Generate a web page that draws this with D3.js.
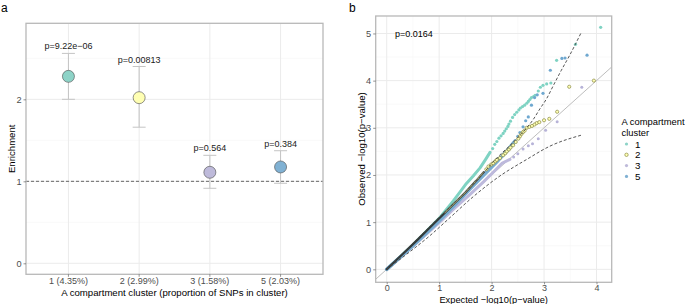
<!DOCTYPE html>
<html>
<head>
<meta charset="utf-8">
<script src="https://cdn.jsdelivr.net/npm/d3@7"></script>
<style>
  body { margin: 0; background: #fff; }
  svg { display: block; }
</style>
</head>
<body>
<div id="chart"></div>
<script>
// Panel a - enrichment per A compartment cluster
const clusterLabels = ["1 (4.35%)", "2 (2.99%)", "3 (1.58%)", "5 (2.03%)"];
const clusterColors = ["#8dd3c7", "#ffffb3", "#bebada", "#80b1d3"];
const enrichment    = [2.28, 2.02, 1.11, 1.175];
const enrichLow     = [2.00, 1.66, 0.915, 0.976];
const enrichHigh    = [2.56, 2.40, 1.317, 1.373];
const enrichP       = ["p=9.22e\u221206", "p=0.00813", "p=0.564", "p=0.384"];
const enrichTicks   = [0, 1, 2];

// Panel b - QQ plot, [expected, observed]
const qqBand1 = [[0,0],[0.5,0.52],[1.0,1.08],[1.27,1.45],[1.40,1.64],[1.52,1.82],[1.65,1.98],[1.78,2.15],[1.88,2.32],[1.97,2.48]];
const qqPts1  = [[2.02,2.56],[2.06,2.65],[2.10,2.71],[2.14,2.78],[2.18,2.83],[2.22,2.88],[2.25,2.93],[2.28,2.98],[2.31,3.03],[2.33,3.08],
                 [2.36,3.14],[2.40,3.22],[2.44,3.28],[2.48,3.33],[2.52,3.38],[2.55,3.42],[2.59,3.45],[2.63,3.48],[2.67,3.52],[2.70,3.56],
                 [2.73,3.60],[2.76,3.64],[2.80,3.66],[2.83,3.69],[2.89,3.78],[2.93,3.86],[2.98,3.90],[3.05,3.93],[3.13,3.95],[3.24,4.43],
                 [3.60,4.77],[4.08,5.13]];
const qqBand2 = [[0,0],[0.3,0.32],[0.6,0.64],[0.9,0.97],[1.1,1.19],[1.3,1.41],[1.5,1.63],[1.7,1.87],[1.85,2.06]];
const qqPts2  = [[1.90,2.12],[1.94,2.18],[1.99,2.22],[2.03,2.25],[2.07,2.29],[2.10,2.32],[2.16,2.36],[2.22,2.42],[2.26,2.46],[2.29,2.50],
                 [2.33,2.54],[2.36,2.58],[2.41,2.63],[2.46,2.70],[2.51,2.77],[2.54,2.82],[2.57,2.87],[2.60,2.91],[2.63,2.94],[2.67,3.00],
                 [2.72,3.02],[2.77,3.04],[2.82,3.07],[2.86,3.10],[2.91,3.12],[3.00,3.16],[3.10,3.19],[3.25,3.34],[3.48,3.87],[3.95,4.00]];
const qqBand3 = [[0,0],[0.5,0.49],[1.0,0.99],[1.3,1.30],[1.6,1.60],[1.85,1.86],[2.05,2.08],[2.20,2.25],[2.35,2.33]];
const qqPts3  = [[2.42,2.38],[2.50,2.45],[2.60,2.55],[2.70,2.62],[2.78,2.66],[2.89,2.77],[3.03,2.95],[3.25,3.13],[3.72,3.86]];
const qqBand5 = [[0,0],[0.5,0.50],[1.0,1.03],[1.3,1.37],[1.6,1.72],[1.85,2.00],[2.10,2.28],[2.30,2.52],[2.45,2.72]];
const qqPts5  = [[2.50,2.82],[2.54,2.90],[2.60,3.02],[2.65,3.15],[2.70,3.23],[2.76,3.48],[2.82,3.64],[2.87,3.70],[2.98,3.73],[3.12,4.22],
                 [3.34,4.47],[3.40,4.48],[3.82,4.54]];
const ciUpper = [[0,0],[0.5,0.55],[1.0,1.10],[1.40,1.53],[1.78,1.96],[2.10,2.36],[2.40,2.68],[2.67,3.00],[2.79,3.17],[2.92,3.40],
                 [3.05,3.62],[3.17,3.88],[3.33,4.22],[3.49,4.54],[3.70,5.00]];
const ciLower = [[0,0],[0.38,0.32],[0.82,0.71],[1.21,1.10],[1.65,1.54],[2.16,1.98],[2.67,2.33],[3.11,2.61],[3.73,2.85]];
const diagLine = [[-0.5,-0.5],[4.5,4.5]];
const qqXTicks = [0, 1, 2, 3, 4];
const qqYTicks = [0, 1, 2, 3, 4, 5];
const qqLegend = ["1", "2", "3", "5"];
const qqPval   = "p=0.0164";

const FONT = "'Liberation Sans', Arial, Helvetica, sans-serif";
const GRID_MAJOR = "#ebebeb";
const GRID_MINOR = "#f5f5f5";
const BORDER = "#b8b8b8";
const TICK_TXT = "#4d4d4d";

const svg = d3.select("#chart").append("svg")
  .attr("width", 685).attr("height", 304)
  .style("font-family", FONT);

function panelFrame(x, y, xMinor, yMinor, xMajor, yMajor) {
  const [x0, x1] = x.range(), [y0, y1] = y.range();
  const g = svg.append("g");
  yMinor.forEach(t => g.append("line").attr("x1", x0).attr("x2", x1).attr("y1", y(t)).attr("y2", y(t))
    .attr("stroke", GRID_MINOR).attr("stroke-width", 0.6));
  xMinor.forEach(t => g.append("line").attr("y1", y0).attr("y2", y1).attr("x1", x(t)).attr("x2", x(t))
    .attr("stroke", GRID_MINOR).attr("stroke-width", 0.6));
  yMajor.forEach(t => g.append("line").attr("x1", x0).attr("x2", x1).attr("y1", y(t)).attr("y2", y(t))
    .attr("stroke", GRID_MAJOR).attr("stroke-width", 1));
  xMajor.forEach(t => g.append("line").attr("y1", y0).attr("y2", y1).attr("x1", x(t)).attr("x2", x(t))
    .attr("stroke", GRID_MAJOR).attr("stroke-width", 1));
  return g;
}

function borderRect(xr, y) {
  const [x0, x1] = xr, [y0, y1] = y.range();
  svg.append("rect")
    .attr("x", x0).attr("y", y1).attr("width", x1 - x0).attr("height", y0 - y1)
    .attr("fill", "none").attr("stroke", BORDER).attr("stroke-width", 1.3);
}

function styleAxis(axG, size) {
  axG.select(".domain").remove();
  axG.selectAll(".tick line").attr("stroke", "#4d4d4d").attr("stroke-width", 0.6);
  axG.selectAll(".tick text").attr("fill", TICK_TXT).attr("font-size", size || "9.2px").attr("font-family", FONT);
}

// ---------------- Panel a ----------------
(function drawPanelA() {
  // ggplot-like discrete expansion: centres 0.6 units in from the panel edges
  const x = d3.scaleBand().domain(clusterLabels).range([26, 323]).paddingOuter(0.1).paddingInner(0);
  const xc = d => x(d) + x.bandwidth() / 2;
  const y = d3.scaleLinear().domain([-0.134, 2.927]).range([274.3, 23.3]);

  const g = svg.append("g");
  [0.5, 1.5, 2.5].forEach(t => g.append("line").attr("x1", 26).attr("x2", 323).attr("y1", y(t)).attr("y2", y(t))
    .attr("stroke", GRID_MINOR).attr("stroke-width", 0.6));
  enrichTicks.forEach(t => g.append("line").attr("x1", 26).attr("x2", 323).attr("y1", y(t)).attr("y2", y(t))
    .attr("stroke", GRID_MAJOR).attr("stroke-width", 1));
  clusterLabels.forEach(c => g.append("line").attr("y1", 23.3).attr("y2", 274.3).attr("x1", xc(c)).attr("x2", xc(c))
    .attr("stroke", GRID_MAJOR).attr("stroke-width", 1));

  // reference line at enrichment = 1
  svg.append("line")
    .attr("x1", 26).attr("x2", 323).attr("y1", y(1)).attr("y2", y(1))
    .attr("stroke", "#555").attr("stroke-width", 0.9).attr("stroke-dasharray", "3,2");

  clusterLabels.forEach((c, i) => {
    const cx = xc(c);
    const eb = svg.append("g").attr("stroke", "#c4c4c4").attr("stroke-width", 1);
    eb.append("line").attr("x1", cx).attr("x2", cx).attr("y1", y(enrichLow[i])).attr("y2", y(enrichHigh[i]));
    eb.append("line").attr("x1", cx - 6.5).attr("x2", cx + 6.5).attr("y1", y(enrichLow[i])).attr("y2", y(enrichLow[i]));
    eb.append("line").attr("x1", cx - 6.5).attr("x2", cx + 6.5).attr("y1", y(enrichHigh[i])).attr("y2", y(enrichHigh[i]));

    svg.append("circle")
      .attr("cx", cx).attr("cy", y(enrichment[i])).attr("r", 6)
      .attr("fill", clusterColors[i]).attr("stroke", "#4a4a4a").attr("stroke-width", 0.6);

    svg.append("text")
      .attr("x", cx).attr("y", y(enrichHigh[i]) - 4)
      .attr("text-anchor", "middle").attr("font-size", "9px").attr("fill", "#1a1a1a")
      .text(enrichP[i]);
  });

  borderRect([26, 323], y);

  const yAx = svg.append("g").attr("transform", "translate(26,0)")
    .call(d3.axisLeft(y).tickValues(enrichTicks).tickFormat(d3.format("d")).tickSize(2.5).tickPadding(2));
  styleAxis(yAx);

  const xAx = svg.append("g").attr("transform", "translate(0,274.3)")
    .call(d3.axisBottom(x).tickSize(2.5).tickPadding(0.5));
  styleAxis(xAx, "9px");

  svg.append("text").attr("x", 174.5).attr("y", 295.8).attr("text-anchor", "middle")
    .attr("font-size", "9.6px").attr("fill", "#000")
    .text("A compartment cluster (proportion of SNPs in cluster)");
  svg.append("text").attr("transform", "translate(15,148.8) rotate(-90)").attr("text-anchor", "middle")
    .attr("font-size", "9.6px").attr("fill", "#000").text("Enrichment");
  svg.append("text").attr("x", 1).attr("y", 12).attr("font-size", "12px").attr("fill", "#000").text("a");
})();

// ---------------- Panel b ----------------
(function drawPanelB() {
  const x = d3.scaleLinear().domain([-0.21, 4.29]).range([375.7, 611.7]);
  const y = d3.scaleLinear().domain([-0.275, 5.37]).range([282.3, 16]);

  panelFrame(x, y, [0.5, 1.5, 2.5, 3.5], [0.5, 1.5, 2.5, 3.5, 4.5], qqXTicks, qqYTicks);

  svg.append("clipPath").attr("id", "clipB").append("rect")
    .attr("x", 375.7).attr("y", 16).attr("width", 236).attr("height", 266.3);
  const g = svg.append("g").attr("clip-path", "url(#clipB)");

  const line = d3.line().x(d => x(d[0])).y(d => y(d[1]));
  const smooth = d3.line().x(d => x(d[0])).y(d => y(d[1])).curve(d3.curveMonotoneX);

  g.append("path").attr("d", line(diagLine)).attr("fill", "none")
    .attr("stroke", "#b5b5b5").attr("stroke-width", 0.9);

  // dense low-p region: overlapping points drawn as thick bands
  g.append("path").attr("d", line(qqBand1)).attr("fill", "none")
    .attr("stroke", "#7fd3c3").attr("stroke-width", 3).attr("stroke-linecap", "round").attr("stroke-linejoin", "round");
  g.append("path").attr("d", line(qqBand3)).attr("fill", "none")
    .attr("stroke", "#bdb9dc").attr("stroke-width", 3).attr("stroke-linecap", "round");
  g.append("path").attr("d", line(qqBand5)).attr("fill", "none")
    .attr("stroke", "#78acd0").attr("stroke-width", 3.6).attr("stroke-linecap", "round");
  g.append("path").attr("d", line(qqBand2)).attr("fill", "none")
    .attr("stroke", "#262620").attr("stroke-width", 2.2).attr("stroke-linecap", "round").attr("opacity", 0.85);
  g.append("path").attr("d", line(qqBand2.filter(d => d[0] >= 1.1))).attr("fill", "none")
    .attr("stroke", "#b8b87a").attr("stroke-width", 1.2).attr("opacity", 0.8);

  const dots = (pts, color, r) => pts.forEach(d =>
    g.append("circle").attr("cx", x(d[0])).attr("cy", y(d[1])).attr("r", r).attr("fill", color));

  dots(qqPts1, "#7fd3c3", 1.6);
  dots(qqPts3, "#b7b3d8", 1.5);
  dots(qqPts5, "#6fa8d0", 1.6);
  qqPts2.forEach(d =>
    g.append("circle").attr("cx", x(d[0])).attr("cy", y(d[1])).attr("r", 1.6)
      .attr("fill", "#ffffb3").attr("stroke", "#8a8a45").attr("stroke-width", 0.7));

  // confidence bounds
  [ciUpper, ciLower].forEach(ci =>
    g.append("path").attr("d", smooth(ci)).attr("fill", "none")
      .attr("stroke", "#444").attr("stroke-width", 0.9).attr("stroke-dasharray", "3,2"));

  borderRect(x.range(), y);

  const yAx = svg.append("g").attr("transform", "translate(375.7,0)")
    .call(d3.axisLeft(y).tickValues(qqYTicks).tickFormat(d3.format("d")).tickSize(2.5).tickPadding(2));
  styleAxis(yAx);
  const xAx = svg.append("g").attr("transform", "translate(0,282.3)")
    .call(d3.axisBottom(x).tickValues(qqXTicks).tickFormat(d3.format("d")).tickSize(2).tickPadding(0));
  styleAxis(xAx, "9px");

  svg.append("text").attr("x", 395).attr("y", 36.5).attr("font-size", "9px").attr("fill", "#000").text(qqPval);

  svg.append("text").attr("x", 493.7).attr("y", 302.5).attr("text-anchor", "middle")
    .attr("font-size", "9.3px").attr("fill", "#000").text("Expected \u2212log10(p\u2212value)");
  svg.append("text").attr("transform", "translate(364.5,149) rotate(-90)").attr("text-anchor", "middle")
    .attr("font-size", "9.6px").attr("fill", "#000").text("Observed \u2212log10(p\u2212value)");
  svg.append("text").attr("x", 349).attr("y", 12).attr("font-size", "12px").attr("fill", "#000").text("b");

  // legend
  const lg = svg.append("g").attr("transform", "translate(621.5,0)");
  lg.append("text").attr("x", 0).attr("y", 125).attr("font-size", "9.4px").attr("fill", "#000").text("A compartment");
  lg.append("text").attr("x", 0).attr("y", 135.8).attr("font-size", "9.4px").attr("fill", "#000").text("cluster");
  qqLegend.forEach((k, i) => {
    const cy = 144 + i * 10.8;
    if (k === "2") {
      lg.append("circle").attr("cx", 5).attr("cy", cy).attr("r", 1.7)
        .attr("fill", "#ffffb3").attr("stroke", "#8a8a45").attr("stroke-width", 0.7);
    } else {
      lg.append("circle").attr("cx", 5).attr("cy", cy).attr("r", 1.6)
        .attr("fill", clusterColors[i]);
    }
    lg.append("text").attr("x", 13.5).attr("y", cy + 3.5).attr("font-size", "9.8px").attr("fill", "#000").text(k);
  });
})();
</script>
</body>
</html>
